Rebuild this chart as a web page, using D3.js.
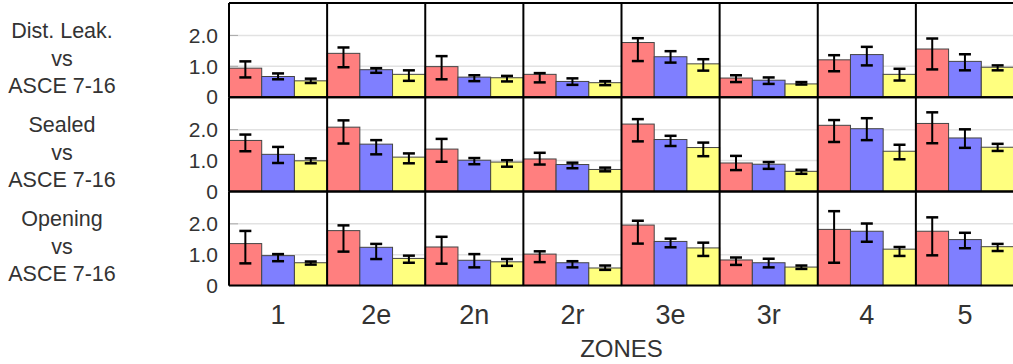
<!DOCTYPE html>
<html>
<head>
<meta charset="utf-8">
<script src="https://cdn.jsdelivr.net/npm/d3@7"></script>
<style>
  body { margin: 0; background: #fff; }
  text { font-family: "Liberation Sans", Arial, sans-serif; fill: #333; }
</style>
</head>
<body>
<div id="chart"></div>
<script>
const zones = ["1", "2e", "2n", "2r", "3e", "3r", "4", "5"];
const colors = ["#ff7f7f", "#7f7fff", "#ffff7f"];
const rowLabels = [
    ["Dist. Leak.", "vs", "ASCE 7-16"],
    ["Sealed", "vs", "ASCE 7-16"],
    ["Opening", "vs", "ASCE 7-16"]
];
const yTicks = [0, 1, 2];
const yTickLabels = ["0", "1.0", "2.0"];

// each array: [red, blue, yellow] x zones
const leakMean = [
    [0.94, 1.42, 0.99, 0.74, 1.77, 0.62, 1.21, 1.56],
    [0.67, 0.89, 0.65, 0.51, 1.31, 0.55, 1.38, 1.16],
    [0.53, 0.74, 0.63, 0.47, 1.08, 0.43, 0.74, 0.97]
];
const leakLo = [
    [0.64, 0.97, 0.58, 0.48, 1.17, 0.49, 0.84, 0.90],
    [0.58, 0.79, 0.52, 0.40, 1.12, 0.43, 1.03, 0.87],
    [0.46, 0.53, 0.51, 0.39, 0.86, 0.41, 0.54, 0.87]
];
const leakHi = [
    [1.16, 1.61, 1.33, 0.78, 1.91, 0.71, 1.36, 1.90],
    [0.77, 0.94, 0.71, 0.61, 1.49, 0.64, 1.63, 1.39],
    [0.60, 0.87, 0.69, 0.52, 1.23, 0.49, 0.92, 1.03]
];

const sealedMean = [
    [1.65, 2.08, 1.37, 1.05, 2.18, 0.92, 2.14, 2.20],
    [1.20, 1.53, 1.01, 0.87, 1.68, 0.88, 2.03, 1.73],
    [0.99, 1.11, 0.95, 0.71, 1.42, 0.65, 1.30, 1.43]
];
const sealedLo = [
    [1.30, 1.55, 0.96, 0.87, 1.62, 0.69, 1.60, 1.56],
    [0.92, 1.20, 0.88, 0.75, 1.47, 0.73, 1.66, 1.41],
    [0.91, 0.91, 0.80, 0.65, 1.14, 0.57, 1.04, 1.31]
];
const sealedHi = [
    [1.84, 2.30, 1.70, 1.25, 2.34, 1.15, 2.31, 2.56],
    [1.44, 1.66, 1.08, 0.93, 1.80, 0.95, 2.37, 2.01],
    [1.07, 1.23, 1.01, 0.77, 1.58, 0.70, 1.51, 1.54]
];

const openMean = [
    [1.36, 1.78, 1.25, 1.02, 1.96, 0.83, 1.82, 1.76],
    [0.97, 1.24, 0.82, 0.74, 1.43, 0.74, 1.76, 1.49],
    [0.74, 0.88, 0.77, 0.57, 1.22, 0.60, 1.18, 1.26]
];
const openLo = [
    [0.72, 1.10, 0.71, 0.76, 1.36, 0.67, 0.74, 0.98],
    [0.79, 0.86, 0.59, 0.59, 1.24, 0.59, 1.42, 1.21],
    [0.68, 0.74, 0.64, 0.51, 0.96, 0.54, 0.96, 1.12]
];
const openHi = [
    [1.77, 1.95, 1.58, 1.11, 2.10, 0.91, 2.41, 2.21],
    [1.02, 1.35, 1.02, 0.79, 1.52, 0.87, 2.01, 1.71],
    [0.78, 0.97, 0.86, 0.65, 1.39, 0.65, 1.25, 1.35]
];

const rows = [
    {mean: leakMean, lo: leakLo, hi: leakHi},
    {mean: sealedMean, lo: sealedLo, hi: sealedHi},
    {mean: openMean, lo: openLo, hi: openHi}
];

const margin = {top: 3, left: 229};
const width = 785;
const rowH = 94.2;

const svg = d3.select("#chart")
    .append("svg")
    .attr("width", 1013)
    .attr("height", 364);

const x = d3.scaleBand().domain(zones).range([0, width]);
const xs = d3.scaleBand().domain([0, 1, 2]).range([0, x.bandwidth()]);
const y = d3.scaleLinear().domain([0, 3.05]).range([rowH, 0]);

rows.forEach((row, r) => {
    const g = svg.append("g")
        .attr("transform", `translate(${margin.left},${margin.top + r * rowH})`);

    // gridlines
    g.selectAll(".grid")
        .data(yTicks.filter(d => d > 0))
        .join("line")
        .attr("x1", 0).attr("x2", width)
        .attr("y1", d => y(d)).attr("y2", d => y(d))
        .attr("stroke", "#e2e2e2")
        .attr("stroke-width", 1.5);

    g.selectAll(".tick-in")
        .data(yTicks.filter(d => d > 0))
        .join("line")
        .attr("x1", 0).attr("x2", 9)
        .attr("y1", d => y(d)).attr("y2", d => y(d))
        .attr("stroke", "#aaa")
        .attr("stroke-width", 1);

    // axis labels
    const axis = g.append("g")
        .call(d3.axisLeft(y).tickValues(yTicks).tickSize(0).tickPadding(11)
            .tickFormat((d, i) => yTickLabels[i]));
    axis.select(".domain").remove();
    axis.selectAll("text")
        .style("font-size", "21px")
        .style("font-family", "'Liberation Sans', Arial, sans-serif")
        .attr("fill", "#333");

    zones.forEach((z, zi) => {
        const cg = g.append("g").attr("transform", `translate(${x(z)},0)`);
        [0, 1, 2].forEach(s => {
            const v = row.mean[s][zi];
            cg.append("rect")
                .attr("x", xs(s))
                .attr("y", y(v))
                .attr("width", xs.bandwidth())
                .attr("height", y(0) - y(v))
                .attr("fill", colors[s])
                .attr("stroke", "#444")
                .attr("stroke-width", 1);
        });
        [0, 1, 2].forEach(s => {
            const cx = xs(s) + xs.bandwidth() / 2;
            const lo = row.lo[s][zi];
            const hi = row.hi[s][zi];
            cg.append("line")
                .attr("x1", cx).attr("x2", cx)
                .attr("y1", y(lo)).attr("y2", y(hi))
                .attr("stroke", "#000").attr("stroke-width", 2);
            [lo, hi].forEach(e => {
                cg.append("line")
                    .attr("x1", cx - 6).attr("x2", cx + 6)
                    .attr("y1", y(e)).attr("y2", y(e))
                    .attr("stroke", "#000").attr("stroke-width", 2.5);
            });
        });
    });

    // column dividers
    g.selectAll(".col")
        .data(zones.concat(["end"]))
        .join("line")
        .attr("x1", (d, i) => i * x.bandwidth())
        .attr("x2", (d, i) => i * x.bandwidth())
        .attr("y1", 0).attr("y2", rowH)
        .attr("stroke", "#000").attr("stroke-width", 2);

    // row frame
    [0, rowH].forEach(yy => {
        g.append("line")
            .attr("x1", 0).attr("x2", width)
            .attr("y1", yy).attr("y2", yy)
            .attr("stroke", "#000").attr("stroke-width", 2);
    });

    // row label
    const lab = svg.append("text")
        .attr("text-anchor", "middle")
        .style("font-size", "21.5px");
    rowLabels[r].forEach((t, i) => {
        lab.append("tspan")
            .attr("x", 62)
            .attr("y", margin.top + r * rowH + 35 + i * 27.5)
            .text(t);
    });
});

// zone labels
svg.selectAll(".zone")
    .data(zones)
    .join("text")
    .attr("x", d => margin.left + x(d) + x.bandwidth() / 2)
    .attr("y", 324)
    .attr("text-anchor", "middle")
    .style("font-size", "27px")
    .text(d => d);

svg.append("text")
    .attr("x", margin.left + width / 2)
    .attr("y", 357)
    .attr("text-anchor", "middle")
    .style("font-size", "24px")
    .text("ZONES");
</script>
</body>
</html>
